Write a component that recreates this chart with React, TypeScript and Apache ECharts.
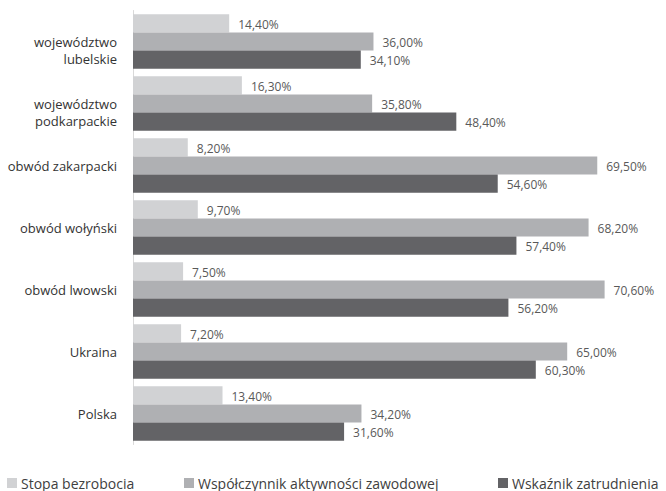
import React, { useEffect, useRef } from "react";
import * as echarts from "echarts";

const categories = [
  "województwo lubelskie",
  "województwo podkarpackie",
  "obwód zakarpacki",
  "obwód wołyński",
  "obwód lwowski",
  "Ukraina",
  "Polska",
];
const seriesNames = [
  "Stopa bezrobocia",
  "Współczynnik aktywności zawodowej",
  "Wskaźnik zatrudnienia",
];
const stopaBezrobocia = [14.4, 16.3, 8.2, 9.7, 7.5, 7.2, 13.4];
const wspolczynnikAktywnosci = [36.0, 35.8, 69.5, 68.2, 70.6, 65.0, 34.2];
const wskaznikZatrudnienia = [34.1, 48.4, 54.6, 57.4, 56.2, 60.3, 31.6];

const colors = ["#D1D2D4", "#AFB0B3", "#636366"];
const FONT = "Open Sans";

function fmtPct(v: number): string {
  return v.toFixed(2).replace(".", ",") + "%";
}

export default function App() {
  const ref = useRef<HTMLDivElement>(null);
  useEffect(() => {
    if (!ref.current) return;
    const chart = echarts.init(ref.current, undefined, { renderer: "svg" });
    const values = [stopaBezrobocia, wspolczynnikAktywnosci, wskaznikZatrudnienia];
    const legendLefts = [7, 184, 498];
    chart.setOption({
      animation: false,
      backgroundColor: "#ffffff",
      grid: { left: 133, top: 10.5, width: 501, height: 434 },
      xAxis: {
        type: "value",
        min: 0,
        max: 75,
        show: false,
        splitLine: { show: false },
      },
      yAxis: {
        type: "category",
        inverse: true,
        data: categories,
        axisLine: { show: true, lineStyle: { color: "#D9D9D9", width: 1 } },
        axisTick: { show: false },
        axisLabel: {
          margin: 16,
          color: "#333333",
          fontFamily: FONT,
          fontSize: 13,
          lineHeight: 17,
          formatter: (v: string) =>
            v.startsWith("województwo ") ? "\n" + v.replace(" ", "\n") : v,
        },
      },
      legend: seriesNames.map((n, i) => ({
        data: [n],
        left: legendLefts[i],
        top: 475,
        padding: 0,
        itemWidth: 10,
        itemHeight: 10,
        itemGap: 0,
        icon: "rect",
        selectedMode: false,
        textStyle: {
          color: "#404040",
          fontFamily: FONT,
          fontSize: 14,
          lineHeight: 16,
          padding: [0, 0, 0, -1],
        },
      })),
      series: seriesNames.map((n, i) => ({
        name: n,
        type: "bar",
        data: values[i],
        barGap: "0%",
        barCategoryGap: "12%",
        itemStyle: { color: colors[i] },
        label: {
          show: true,
          position: "right",
          distance: 9,
          color: "#595959",
          fontFamily: FONT,
          fontSize: 12,
          offset: [0, 1],
          formatter: (p: any) => fmtPct(p.value),
        },
      })),
    });
    return () => chart.dispose();
  }, []);
  return (
    <div
      ref={ref}
      style={{ position: "fixed", left: 0, top: 0, width: 666, height: 491 }}
    />
  );
}
